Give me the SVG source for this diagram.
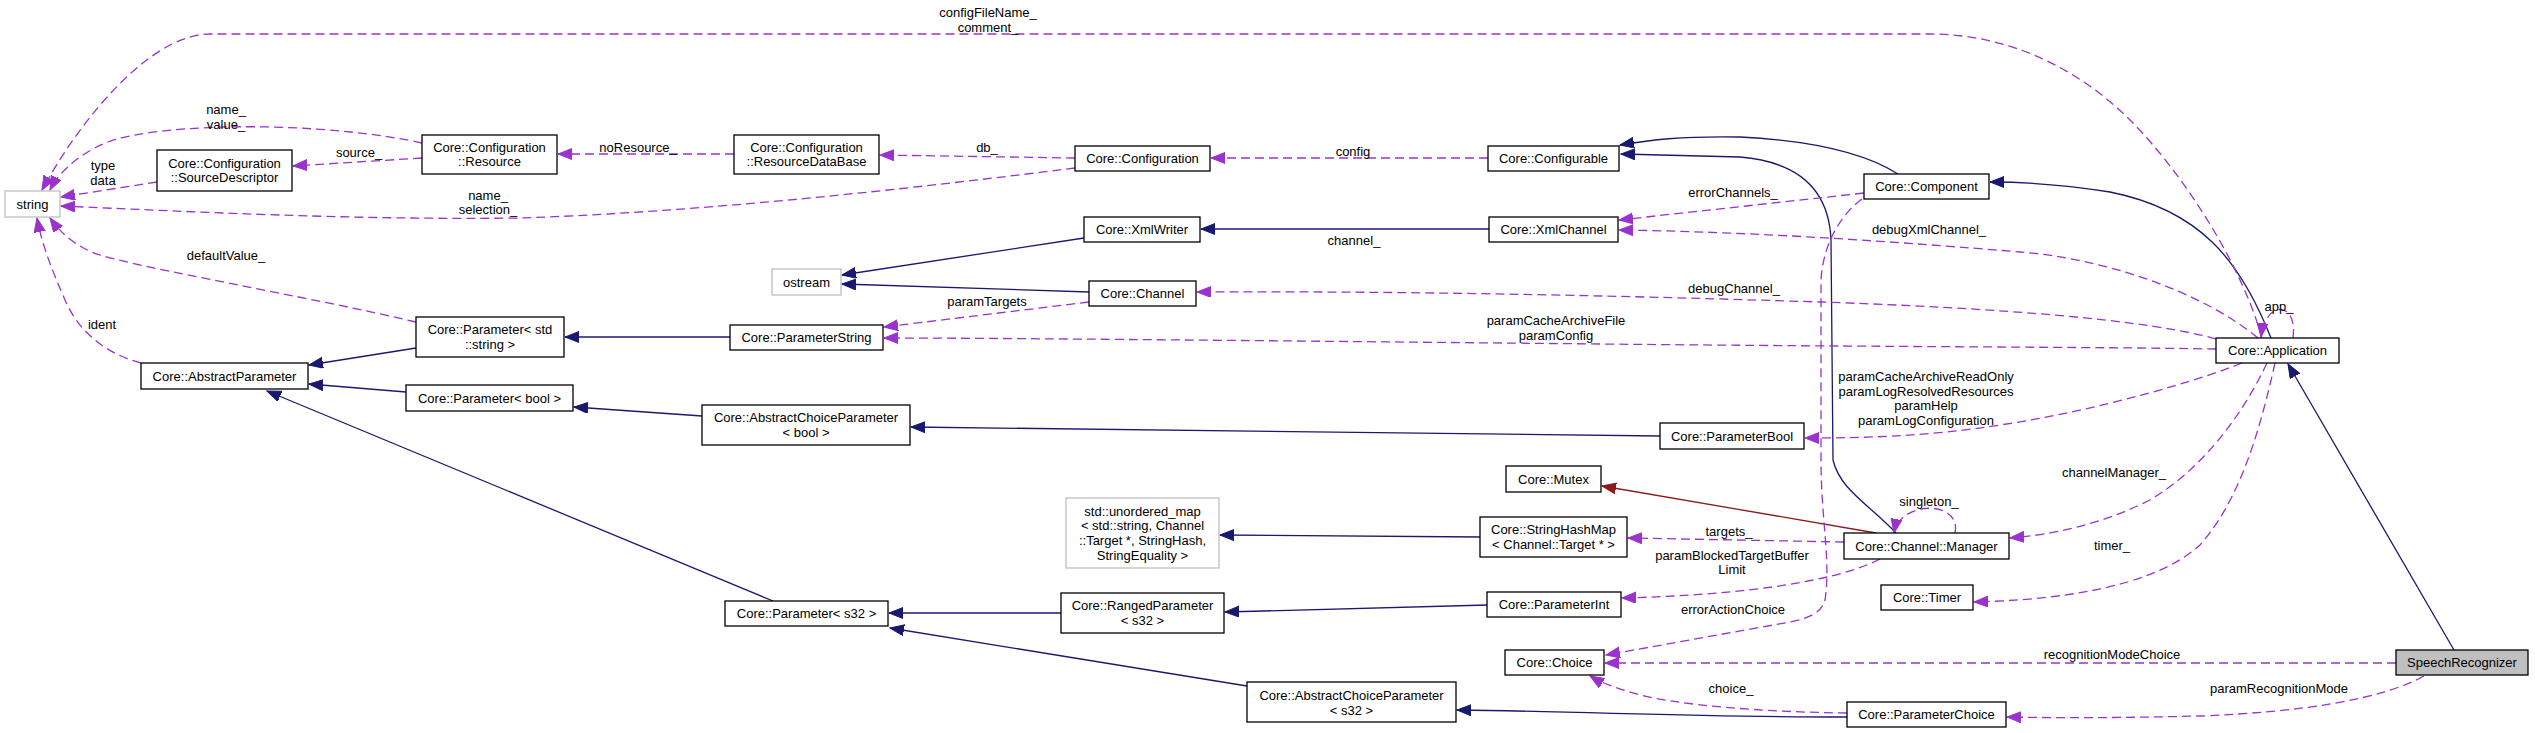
<svg xmlns="http://www.w3.org/2000/svg" width="2535" height="733" viewBox="0 0 2535 733">
<style>
text{font-family:"Liberation Sans",Arial,sans-serif;font-size:13px;fill:#000}
.n rect{fill:#fff;stroke:#000;stroke-width:1.3}
.n.g rect{stroke:#bfbfbf}
.n.root rect{fill:#bfbfbf}
.n text{text-anchor:middle}
.lbl text{text-anchor:middle}
.inh{fill:none;stroke:#191970;stroke-width:1.3;marker-end:url(#ab)}
.use{fill:none;stroke:#9a32cd;stroke-width:1.3;stroke-dasharray:9,5;marker-end:url(#ap)}
.priv{fill:none;stroke:#8b1a1a;stroke-width:1.3;marker-end:url(#ar)}
</style>
<defs>
<marker id="ab" markerUnits="userSpaceOnUse" markerWidth="16" markerHeight="12" refX="14" refY="5.5" orient="auto"><path d="M0,0 L14,5.5 L0,11 z" fill="#191970" stroke="#191970" stroke-dasharray="none"/></marker>
<marker id="ap" markerUnits="userSpaceOnUse" markerWidth="16" markerHeight="12" refX="14" refY="5.5" orient="auto"><path d="M0,0 L14,5.5 L0,11 z" fill="#9a32cd" stroke="#9a32cd" stroke-dasharray="none"/></marker>
<marker id="ar" markerUnits="userSpaceOnUse" markerWidth="16" markerHeight="12" refX="14" refY="5.5" orient="auto"><path d="M0,0 L14,5.5 L0,11 z" fill="#8b1a1a" stroke="#8b1a1a" stroke-dasharray="none"/></marker>
</defs>
<rect x="0" y="0" width="2535" height="733" fill="#fff"/>
<g id="connectors">
<path class="inh" d="M416,348 L309,365"/>
<path class="inh" d="M406,392 L309,384"/>
<path class="inh" d="M773,601 L267,391"/>
<path class="inh" d="M730,337 L565,337"/>
<path class="inh" d="M702,416 L574,407"/>
<path class="inh" d="M1660,436 L911,427"/>
<path class="inh" d="M1084,238 L842,275"/>
<path class="inh" d="M1089,292 L842,284"/>
<path class="inh" d="M1489,229 L1201,229"/>
<path class="inh" d="M1480,537 L1220,535"/>
<path class="inh" d="M1061,613 L889,613"/>
<path class="inh" d="M1487,605 L1225,612"/>
<path class="inh" d="M1247,686 L890,628"/>
<path class="inh" d="M1847,717 C1700,717 1600,712 1457,710"/>
<path class="inh" d="M2454,650 L2288,364"/>
<path class="inh" d="M2271,338 C2240,260 2200,210 2110,192 C2060,184 2020,182 1990,182"/>
<path class="inh" d="M1898,174 C1860,150 1800,140 1740,137 C1680,136 1650,140 1620,145"/>
<path class="inh" d="M1896,533 C1870,505 1840,490 1833,460 L1831,240 C1829,190 1800,162 1740,157 L1621,154"/>
<path class="priv" d="M1876,533 L1602,486"/>
<path class="use" d="M2262,338 C2240,260 2180,170 2130,120 C2080,70 2010,34 1930,34 L210,34 C150,34 80,120 42,190"/>
<path class="use" d="M422,143 C340,125 200,120 120,138 C85,148 60,170 50,190"/>
<path class="use" d="M157,182 L61,197"/>
<path class="use" d="M422,158 L293,166"/>
<path class="use" d="M734,154 L558,154"/>
<path class="use" d="M1075,158 L880,155"/>
<path class="use" d="M1075,168 C900,190 700,212 520,218 C350,220 200,212 61,206"/>
<path class="use" d="M1488,158 L1211,158"/>
<path class="use" d="M1864,193 L1619,220"/>
<path class="use" d="M2258,338 C2200,290 2100,258 2020,252 C1900,242 1760,232 1619,230"/>
<path class="use" d="M2216,339 C2150,320 2000,308 1820,302 C1600,295 1400,291 1197,292"/>
<path class="use" d="M2216,349 C2100,347 1900,347 1600,344 C1300,341 1000,338 884,338"/>
<path class="use" d="M1089,302 L884,327"/>
<path class="use" d="M2242,363 C2200,380 2100,410 2000,425 C1930,436 1870,438 1805,438"/>
<path class="use" d="M2267,363 C2240,420 2200,470 2150,500 C2100,525 2050,535 2010,538"/>
<path class="use" d="M2275,363 C2260,430 2240,500 2200,545 C2150,590 2050,600 1974,602"/>
<path class="use" d="M1955,533 C1962,500 1900,500 1894,533"/>
<path class="use" d="M2293,338 C2298,300 2265,300 2261,337"/>
<path class="use" d="M1844,542 L1628,538"/>
<path class="use" d="M1880,559 C1840,580 1750,595 1622,598"/>
<path class="use" d="M1862,199 C1840,215 1823,245 1821,280 L1821,460 C1821,520 1831,560 1825,600 C1822,612 1810,618 1790,622 L1606,655"/>
<path class="use" d="M2396,663 L1605,663"/>
<path class="use" d="M2424,676 C2380,700 2300,712 2200,716 C2120,718 2060,718 2007,717"/>
<path class="use" d="M1847,713 C1760,712 1680,705 1640,695 C1615,688 1600,682 1590,676"/>
<path class="use" d="M141,363 C110,355 80,335 65,300 C52,270 42,245 37,218"/>
<path class="use" d="M416,322 C300,295 150,270 100,255 C75,247 60,232 50,218"/>
</g>
<g class="lbl" id="labels">
<text x="988" y="16.5">configFileName_</text><text x="988" y="31.5">comment_</text>
<text x="226" y="113.5">name_</text><text x="226" y="128.5">value_</text>
<text x="103" y="169.5">type</text><text x="103" y="184.5">data</text>
<text x="359" y="156.5">source_</text>
<text x="638" y="151.5">noResource_</text>
<text x="987" y="151.5">db_</text>
<text x="1353" y="155.5">config</text>
<text x="488" y="199.5">name_</text><text x="488" y="213.5">selection_</text>
<text x="1733" y="196.5">errorChannels_</text>
<text x="1929" y="233.5">debugXmlChannel_</text>
<text x="1354" y="244.5">channel_</text>
<text x="987" y="305.5">paramTargets</text>
<text x="1734" y="292.5">debugChannel_</text>
<text x="2279" y="310.5">app_</text>
<text x="1556" y="324.5">paramCacheArchiveFile</text><text x="1556" y="339.5">paramConfig</text>
<text x="226" y="259.5">defaultValue_</text>
<text x="102" y="328.5">ident</text>
<text x="1926" y="380.5">paramCacheArchiveReadOnly</text><text x="1926" y="395.5">paramLogResolvedResources</text><text x="1926" y="409.5">paramHelp</text><text x="1926" y="424.5">paramLogConfiguration</text>
<text x="2114" y="476.5">channelManager_</text>
<text x="1929" y="505.5">singleton_</text>
<text x="1729" y="535.5">targets_</text>
<text x="2112" y="549.5">timer_</text>
<text x="1732" y="559.5">paramBlockedTargetBuffer</text><text x="1732" y="573.5">Limit</text>
<text x="1733" y="613.5">errorActionChoice</text>
<text x="2112" y="658.5">recognitionModeChoice</text>
<text x="1731" y="692.5">choice_</text>
<text x="2279" y="692.5">paramRecognitionMode</text>
</g>
<g id="n_string" class="n g"><rect x="5" y="191" width="55" height="26"/><text x="32.5" y="208.5">string</text></g>
<g id="n_sourcedescriptor" class="n"><rect x="157" y="150" width="135" height="41"/><text x="224.5" y="168">Core::Configuration</text><text x="224.5" y="182">::SourceDescriptor</text></g>
<g id="n_resource" class="n"><rect x="422" y="135" width="135" height="39"/><text x="489.5" y="152">Core::Configuration</text><text x="489.5" y="166">::Resource</text></g>
<g id="n_resourcedatabase" class="n"><rect x="734" y="135" width="145" height="39"/><text x="806.5" y="152">Core::Configuration</text><text x="806.5" y="166">::ResourceDataBase</text></g>
<g id="n_configuration" class="n"><rect x="1075" y="146" width="135" height="25"/><text x="1142.5" y="163">Core::Configuration</text></g>
<g id="n_configurable" class="n"><rect x="1488" y="146" width="131" height="25"/><text x="1553.5" y="163">Core::Configurable</text></g>
<g id="n_component" class="n"><rect x="1864" y="174" width="125" height="25"/><text x="1926.5" y="191">Core::Component</text></g>
<g id="n_xmlwriter" class="n"><rect x="1084" y="217" width="116" height="25"/><text x="1142" y="234">Core::XmlWriter</text></g>
<g id="n_xmlchannel" class="n"><rect x="1489" y="217" width="129" height="25"/><text x="1553.5" y="234">Core::XmlChannel</text></g>
<g id="n_ostream" class="n g"><rect x="772" y="269" width="69" height="26"/><text x="806.5" y="286.5">ostream</text></g>
<g id="n_channel" class="n"><rect x="1089" y="281" width="107" height="25"/><text x="1142.5" y="298">Core::Channel</text></g>
<g id="n_parameterstring" class="n"><rect x="730" y="325" width="153" height="25"/><text x="806.5" y="342">Core::ParameterString</text></g>
<g id="n_parameter_string" class="n"><rect x="416" y="317" width="148" height="40"/><text x="490" y="334">Core::Parameter&lt; std</text><text x="490" y="348.5">::string &gt;</text></g>
<g id="n_abstractparameter" class="n"><rect x="141" y="363" width="167" height="26"/><text x="224.5" y="380.5">Core::AbstractParameter</text></g>
<g id="n_parameter_bool" class="n"><rect x="406" y="385" width="167" height="26"/><text x="489.5" y="402.5">Core::Parameter&lt; bool &gt;</text></g>
<g id="n_abstractchoice_bool" class="n"><rect x="702" y="405" width="208" height="40"/><text x="806" y="421.5">Core::AbstractChoiceParameter</text><text x="806" y="436.5">&lt; bool &gt;</text></g>
<g id="n_application" class="n"><rect x="2216" y="338" width="123" height="25"/><text x="2277.5" y="355">Core::Application</text></g>
<g id="n_parameterbool" class="n"><rect x="1660" y="423" width="144" height="26"/><text x="1732" y="440.5">Core::ParameterBool</text></g>
<g id="n_mutex" class="n"><rect x="1506" y="466" width="95" height="26"/><text x="1553.5" y="483.5">Core::Mutex</text></g>
<g id="n_unordered_map" class="n g"><rect x="1066" y="498" width="153" height="70"/><text x="1142.5" y="515.5">std::unordered_map</text><text x="1142.5" y="529.5">&lt; std::string, Channel</text><text x="1142.5" y="544.5">::Target *, StringHash,</text><text x="1142.5" y="559.5">StringEquality &gt;</text></g>
<g id="n_stringhashmap" class="n"><rect x="1480" y="517" width="147" height="40"/><text x="1553.5" y="533.5">Core::StringHashMap</text><text x="1553.5" y="548.5">&lt; Channel::Target * &gt;</text></g>
<g id="n_manager" class="n"><rect x="1844" y="533" width="165" height="26"/><text x="1926.5" y="550.5">Core::Channel::Manager</text></g>
<g id="n_parameterint" class="n"><rect x="1487" y="592" width="134" height="25"/><text x="1554" y="609">Core::ParameterInt</text></g>
<g id="n_rangedparameter" class="n"><rect x="1061" y="593" width="163" height="40"/><text x="1142.5" y="609.5">Core::RangedParameter</text><text x="1142.5" y="624.5">&lt; s32 &gt;</text></g>
<g id="n_timer" class="n"><rect x="1881" y="585" width="92" height="25"/><text x="1927" y="602">Core::Timer</text></g>
<g id="n_parameter_s32" class="n"><rect x="725" y="601" width="163" height="25"/><text x="806.5" y="618">Core::Parameter&lt; s32 &gt;</text></g>
<g id="n_choice" class="n"><rect x="1505" y="650" width="99" height="25"/><text x="1554.5" y="667">Core::Choice</text></g>
<g id="n_speechrecognizer" class="n root"><rect x="2396" y="650" width="132" height="25"/><text x="2462" y="667">SpeechRecognizer</text></g>
<g id="n_abstractchoice_s32" class="n"><rect x="1247" y="682" width="209" height="40"/><text x="1351.5" y="699.5">Core::AbstractChoiceParameter</text><text x="1351.5" y="714.5">&lt; s32 &gt;</text></g>
<g id="n_parameterchoice" class="n"><rect x="1847" y="702" width="159" height="25"/><text x="1926.5" y="719">Core::ParameterChoice</text></g>
</svg>
